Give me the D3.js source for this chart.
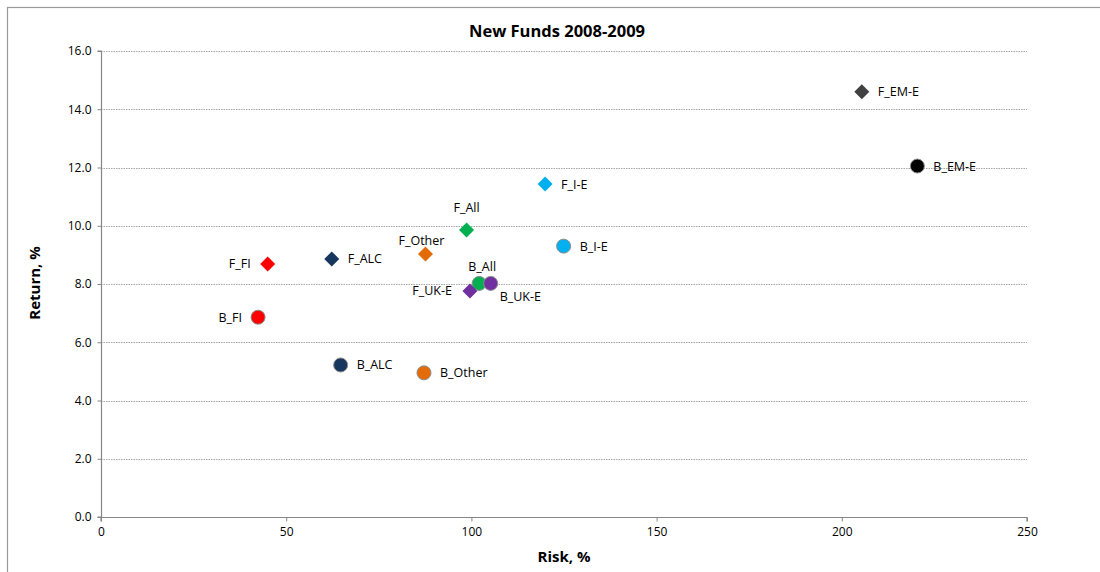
<!DOCTYPE html>
<html>
<head>
<meta charset="utf-8">
<script src="https://cdn.jsdelivr.net/npm/d3@7"></script>
<style>
  html, body { margin: 0; padding: 0; background: #fff; }
  svg { display: block; font-family: "Open Sans", "Noto Sans", sans-serif; }
</style>
</head>
<body>
<svg id="chart" width="1100" height="572"></svg>
<script>
// Fund risk/return points
const names  = ["F_EM-E", "B_EM-E", "F_I-E", "B_I-E", "F_All", "F_Other", "F_ALC", "F_FI",
                "B_All", "B_UK-E", "F_UK-E", "B_FI", "B_ALC", "B_Other"];
const risk   = [205.4, 220.4, 119.9, 124.9, 98.7, 87.6, 62.3, 45.0,
                102.1, 105.2, 99.6, 42.4, 64.7, 87.2];
const ret    = [14.60, 12.05, 11.43, 9.30, 9.85, 9.03, 8.86, 8.69,
                8.02, 8.02, 7.76, 6.86, 5.22, 4.95];
const xTicks = [0, 50, 100, 150, 200, 250];
const yTicks = [0, 2, 4, 6, 8, 10, 12, 14, 16];

// Styling per fund group
const groupColor = {
  "EM-E": { F: "#404040", B: "#000000" },
  "I-E": "#00B0F0",
  "All": "#00B050",
  "Other": "#E36C09",
  "ALC": "#17375E",
  "FI": "#FF0000",
  "UK-E": "#7030A0"
};
function colorOf(name) {
  const kind = name[0], grp = name.slice(2);
  const c = groupColor[grp];
  return typeof c === "string" ? c : c[kind];
}
// label placement: [anchor, dx, dy]
const labelPlace = {
  "F_FI": ["end", -17, 4.5], "B_FI": ["end", -16, 4.5], "F_UK-E": ["end", -18, 4.5],
  "F_All": ["middle", 0, -18.5], "F_Other": ["middle", -4, -9.5], "B_All": ["middle", 3, -12.5],
  "B_UK-E": ["start", 9, 17.5]
};

const svg = d3.select("#chart");
const W = 1100, H = 572;

// outer chart frame
svg.append("rect").attr("x", 7.5).attr("y", 7.5).attr("width", W + 20).attr("height", H + 20)
  .attr("fill", "none").attr("stroke", "#999").attr("stroke-width", 1.2);

const x = d3.scaleLinear().domain([0, 250]).range([101, 1027]);
const y = d3.scaleLinear().domain([0, 16]).range([517, 51]);

// grid lines
svg.append("g").selectAll("line").data(yTicks.filter(d => d > 0)).join("line")
  .attr("x1", x(0)).attr("x2", x(250))
  .attr("y1", d => Math.round(y(d)) + 0.5).attr("y2", d => Math.round(y(d)) + 0.5)
  .attr("stroke", "#a6a6a6").attr("stroke-width", 1).attr("stroke-dasharray", "1.5,1");

// axes
const yAxis = d3.axisLeft(y).tickValues(yTicks).tickFormat(d3.format(".1f")).tickSize(4).tickPadding(6);
const gy = svg.append("g").attr("transform", `translate(${x(0) + 0.5},0)`).call(yAxis);
const xAxis = d3.axisBottom(x).tickValues(xTicks).tickFormat(d3.format("d")).tickSize(4).tickPadding(6);
const gx = svg.append("g").attr("transform", `translate(0,${y(0) + 0.5})`).call(xAxis);
[gx, gy].forEach(g => {
  g.select(".domain").attr("stroke", "#868686").attr("stroke-width", 1.2);
  g.selectAll(".tick line").attr("stroke", "#868686");
  g.selectAll(".tick text").attr("fill", "#000").style("font-size", "12px")
    .style("font-family", "'Open Sans', sans-serif");
});
gy.select(".domain").attr("d", `M-4,${y(16)}H0V${y(0)}H-4`);
gx.select(".domain").attr("d", `M${x(0)},4V0H${x(250)}V4`);

// titles
svg.append("text").attr("x", 557).attr("y", 37).attr("text-anchor", "middle")
  .style("font-size", "16.5px").style("font-weight", "bold").text("New Funds 2008-2009");
svg.append("text").attr("x", 564).attr("y", 562).attr("text-anchor", "middle")
  .style("font-size", "15px").style("font-weight", "bold").text("Risk, %");
svg.append("text").attr("transform", "translate(40,283) rotate(-90)").attr("text-anchor", "middle")
  .style("font-size", "15px").style("font-weight", "bold").text("Return, %");

// points
const pts = names.map((n, i) => ({ name: n, risk: risk[i], ret: ret[i] }));
const marks = svg.append("g");
pts.forEach(d => {
  const cx = x(d.risk), cy = y(d.ret);
  if (d.name[0] === "F") {
    marks.append("path")
      .attr("d", `M${cx},${cy - 7.5}L${cx + 7.5},${cy}L${cx},${cy + 7.5}L${cx - 7.5},${cy}Z`)
      .attr("fill", colorOf(d.name));
  } else {
    marks.append("circle").attr("cx", cx).attr("cy", cy).attr("r", 7)
      .attr("fill", colorOf(d.name)).attr("stroke", "#8c8c8c").attr("stroke-width", 1);
  }
});

// point labels
pts.forEach(d => {
  const p = labelPlace[d.name] || ["start", 16, 4.5];
  svg.append("text").attr("x", x(d.risk) + p[1]).attr("y", y(d.ret) + p[2])
    .attr("text-anchor", p[0]).style("font-size", "12.5px").attr("fill", "#000").text(d.name);
});
</script>
</body>
</html>
